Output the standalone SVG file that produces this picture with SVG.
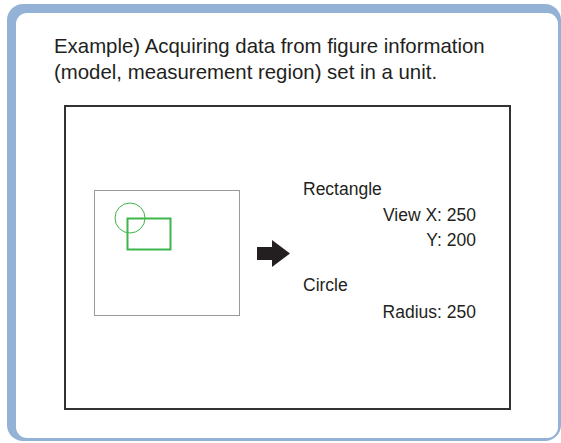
<svg xmlns="http://www.w3.org/2000/svg" width="561" height="443" viewBox="0 0 561 443">
  <style>
    .t { font-family: "Liberation Sans", Arial, sans-serif; fill: #231f20; }
    .title { font-size: 20.4px; }
    .lbl { font-size: 17.5px; }
    .green { fill: none; stroke: #3db54a; }
  </style>
  <g id="frame">
    <rect x="7" y="4" width="554" height="437" rx="16" ry="16" fill="#94b1d6"/>
    <rect x="16" y="13" width="542" height="425" rx="11" ry="11" fill="#ffffff"/>
  </g>
  <g id="title">
    <text class="t title" x="54" y="53">Example) Acquiring data from figure information</text>
    <text class="t title" x="54" y="79">(model, measurement region) set in a unit.</text>
  </g>
  <g id="screen">
    <rect x="65" y="106" width="445" height="303" fill="#ffffff" stroke="#333132" stroke-width="2"/>
  </g>
  <g id="image">
    <rect x="94.5" y="190.5" width="145" height="125" fill="#ffffff" stroke="#9a9a9a" stroke-width="1"/>
    <circle class="green" cx="130" cy="218" r="15" stroke-width="1"/>
    <rect class="green" x="127.5" y="218.5" width="43" height="31" stroke-width="2"/>
  </g>
  <g id="connectors">
    <polygon points="257,247 272,247 272,240 290,253.5 272,267 272,260 257,260" fill="#231f20"/>
  </g>
  <g id="values">
    <text class="t lbl" x="303" y="195">Rectangle</text>
    <text class="t lbl" x="476" y="221" text-anchor="end">View X: 250</text>
    <text class="t lbl" x="476" y="246" text-anchor="end">Y: 200</text>
    <text class="t lbl" x="303" y="291">Circle</text>
    <text class="t lbl" x="476" y="318" text-anchor="end">Radius: 250</text>
  </g>
</svg>
